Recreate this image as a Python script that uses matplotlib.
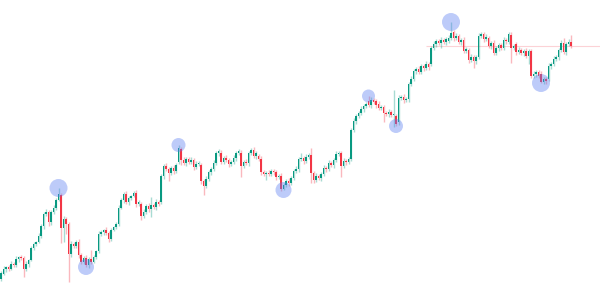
import numpy as np
import matplotlib
matplotlib.use("Agg")
import matplotlib.pyplot as plt

# ---------------- data (price units) ----------------
opens = [
    5, 10, 15, 17, 15, 20, 19, 25, 27, 26,
    15, 20, 24, 36, 40, 42, 48, 58, 70, 72,
    62, 72, 76, 84, 89, 56, 65, 60, 30, 40,
    38, 42, 29, 22, 26, 19, 25, 22, 27, 33,
    50, 52, 54, 51, 45, 54, 57, 60, 76, 84,
    90, 82, 86, 88, 91, 80, 80, 68, 72, 78,
    75, 79, 77, 82, 82, 108, 118, 115, 111, 116,
    113, 122, 135, 124, 121, 125, 122, 124, 117, 120,
    119, 103, 98, 105, 112, 115, 121, 131, 131, 122,
    126, 124, 120, 122, 126, 131, 131, 118, 122, 121,
    131, 134, 128, 128, 125, 112, 110, 111, 110, 113,
    112, 107, 108, 95, 99, 103, 101, 106, 113, 115,
    125, 126, 123, 127, 129, 111, 104, 108, 106, 110,
    116, 115, 121, 119, 124, 130, 131, 118, 123, 122,
    125, 154, 163, 168, 171, 175, 178, 183, 179, 184,
    183, 180, 176, 177, 171, 170, 172, 169, 168, 162,
    186, 187, 184, 185, 200, 205, 213, 215, 212, 218,
    216, 220, 220, 236, 240, 243, 241, 244, 242, 243,
    246, 252, 246, 248, 242, 244, 233, 234, 224, 227,
    223, 227, 248, 250, 245, 246, 238, 241, 231, 236,
    239, 236, 244, 242, 249, 236, 240, 232, 234, 231,
    233, 228, 233, 208, 210, 212, 210, 202, 205, 205,
    218, 220, 225, 227, 234, 241, 232, 240, 242,
]
closes = [
    11, 15, 17, 15, 20, 19, 25, 27, 26, 15,
    20, 24, 36, 40, 42, 48, 58, 70, 72, 62,
    72, 76, 84, 90, 56, 65, 60, 30, 40, 38,
    42, 29, 22, 26, 19, 25, 22, 27, 33, 50,
    52, 54, 51, 45, 54, 57, 60, 76, 84, 90,
    82, 86, 88, 91, 80, 82, 68, 72, 78, 75,
    79, 77, 82, 80, 108, 118, 115, 111, 116, 113,
    119, 136, 124, 121, 125, 122, 124, 117, 120, 121,
    103, 98, 105, 112, 115, 121, 131, 133, 122, 126,
    124, 120, 122, 126, 131, 133, 118, 122, 121, 131,
    134, 128, 131, 125, 112, 110, 111, 110, 113, 112,
    107, 108, 95, 99, 103, 101, 106, 113, 115, 125,
    126, 123, 127, 129, 111, 104, 108, 106, 110, 116,
    115, 121, 119, 124, 130, 131, 118, 123, 122, 125,
    154, 163, 168, 171, 175, 178, 180, 179, 184, 182,
    179, 176, 177, 171, 170, 172, 169, 170, 160, 186,
    187, 184, 185, 200, 205, 213, 215, 212, 218, 216,
    220, 217, 236, 240, 243, 241, 244, 242, 245, 246,
    251, 246, 248, 242, 244, 233, 235, 224, 227, 223,
    227, 248, 250, 245, 247, 238, 241, 231, 236, 239,
    236, 244, 243, 250, 236, 238, 232, 234, 231, 233,
    228, 233, 208, 210, 212, 208, 202, 205, 203, 218,
    220, 225, 227, 234, 241, 232, 240, 242, 238,
]
# wick length above body / below body
upper_wick = [
    2, 3, 1, 2, 3, 2, 3, 1, 2, 2,
    3, 1, 2, 2, 1, 3, 2, 2, 3, 2,
    2, 3, 2, 6, 2, 3, 2, 2, 3, 2,
    2, 3, 2, 2, 3, 2, 9, 2, 1, 3,
    2, 1, 3, 2, 2, 1, 2, 3, 2, 2,
    3, 2, 1, 2, 3, 2, 2, 3, 2, 3,
    8, 2, 3, 2, 2, 2, 3, 2, 2, 3,
    2, 3, 2, 3, 2, 2, 3, 2, 3, 2,
    2, 2, 3, 2, 2, 3, 2, 2, 3, 2,
    3, 2, 2, 3, 2, 2, 3, 2, 3, 2,
    2, 3, 2, 2, 3, 2, 2, 3, 2, 2,
    2, 2, 3, 2, 2, 3, 2, 2, 3, 2,
    5, 2, 3, 2, 7, 2, 3, 2, 2, 3,
    2, 3, 2, 2, 3, 2, 2, 3, 2, 2,
    2, 3, 2, 2, 3, 2, 2, 5, 3, 2,
    2, 3, 2, 2, 2, 3, 2, 24, 2, 3,
    2, 3, 2, 2, 3, 2, 2, 3, 2, 2,
    3, 2, 2, 3, 2, 2, 3, 2, 2, 3,
    11, 2, 3, 2, 2, 3, 2, 2, 3, 2,
    2, 3, 2, 2, 3, 2, 2, 3, 2, 2,
    2, 3, 2, 2, 3, 2, 2, 3, 2, 2,
    3, 2, 2, 3, 2, 2, 3, 2, 2, 3,
    2, 3, 2, 2, 3, 5, 2, 3, 7,
]
lower_wick = [
    2, 1, 3, 2, 1, 2, 2, 3, 2, 8,
    2, 3, 1, 2, 2, 1, 2, 3, 2, 4,
    3, 2, 2, 1, 15, 14, 10, 28, 3, 2,
    2, 3, 2, 2, 2, 3, 2, 1, 2, 2,
    2, 3, 2, 3, 2, 1, 2, 2, 1, 3,
    2, 3, 2, 1, 3, 2, 4, 2, 2, 3,
    8, 2, 3, 2, 2, 3, 2, 8, 2, 3,
    2, 2, 5, 2, 3, 2, 2, 3, 2, 2,
    3, 9, 2, 2, 3, 2, 2, 3, 2, 2,
    2, 3, 2, 2, 3, 2, 11, 2, 2, 3,
    2, 2, 3, 2, 3, 2, 6, 2, 2, 3,
    3, 2, 2, 1, 2, 3, 2, 2, 2, 3,
    2, 3, 2, 2, 10, 3, 2, 2, 3, 2,
    3, 2, 2, 3, 2, 2, 11, 2, 3, 2,
    2, 2, 3, 2, 2, 3, 2, 2, 3, 2,
    3, 2, 2, 9, 2, 3, 2, 12, 2, 3,
    2, 3, 2, 3, 2, 2, 3, 2, 2, 3,
    2, 3, 2, 2, 3, 2, 5, 2, 3, 2,
    2, 3, 2, 2, 3, 2, 2, 3, 2, 7,
    3, 2, 2, 3, 2, 2, 3, 2, 2, 3,
    2, 2, 3, 2, 15, 2, 3, 2, 2, 3,
    2, 8, 2, 2, 3, 2, 1, 2, 3, 2,
    3, 2, 2, 3, 2, 2, 3, 2, 2,
]
# swing points marked with circles: candle index, side, radius (px)
pivot_idx = [23, 34, 71, 113, 147, 158, 180, 216]
pivot_side = ["high", "low", "high", "low", "high", "low", "high", "low"]
pivot_radius = [9, 8, 7, 8, 6.5, 7, 9, 9]

UP = "#089981"
DOWN = "#f23645"

o = np.array(opens, dtype=float)
c = np.array(closes, dtype=float)
hi = np.maximum(o, c) + np.array(upper_wick)
lo = np.minimum(o, c) - np.array(lower_wick)
idx = np.arange(len(o))
up = c >= o

fig = plt.figure(figsize=(6, 2.84), dpi=100)
ax = fig.add_axes([0, 0, 1, 1])
ax.set_xlim(-0.4, 239.6)
ax.set_ylim(0, 284)
ax.axis("off")

# last price line
ax.hlines(c[-1], 170, 239.6, color=DOWN, alpha=0.22, lw=0.8, zorder=1)

# wicks (faint)
ax.vlines(idx[up], lo[up], hi[up], color=UP, alpha=0.35, lw=1, zorder=2)
ax.vlines(idx[~up], lo[~up], hi[~up], color=DOWN, alpha=0.35, lw=1, zorder=2)

# bodies
body = np.maximum(np.abs(c - o), 1.2)
bottom = np.minimum(o, c)
ax.bar(idx[up], body[up], bottom=bottom[up], width=0.65, color=UP, zorder=3)
ax.bar(idx[~up], body[~up], bottom=bottom[~up], width=0.65, color=DOWN, zorder=3)

# swing markers
px = np.array(pivot_idx)
py = np.array([hi[i] if s == "high" else lo[i] for i, s in zip(pivot_idx, pivot_side)])
sizes = (2 * np.array(pivot_radius) * 0.72) ** 2
ax.scatter(px, py, s=sizes, color="#5c7ff2", alpha=0.4, edgecolors="none", zorder=4)

fig.savefig("out.png", dpi=100)
